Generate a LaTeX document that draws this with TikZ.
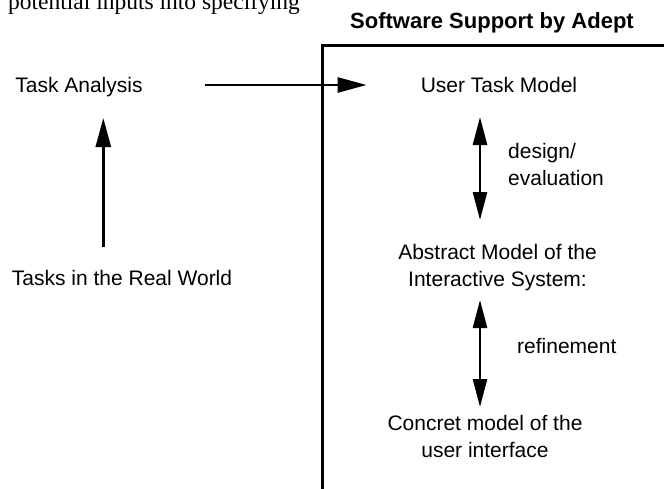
\documentclass[tikz,border=0pt]{standalone}
\usepackage{fontspec}
\setmainfont{Liberation Sans}
\newfontfamily\serifface{Liberation Serif}
\usetikzlibrary{arrows.meta}

\tikzset{
  label21/.style={inner sep=0pt, font=\fontsize{21}{27.5}\selectfont},
  flowarrow/.style={line width=2.6pt, -{Triangle[length=29pt,width=15pt]}},
  twowayarrow/.style={line width=2.6pt,
    {Triangle[length=28pt,width=14pt]}-{Triangle[length=28pt,width=14pt]}},
  frameline/.style={line width=3pt}
}

\begin{document}
\begin{tikzpicture}[x=1pt,y=-1pt]
  \useasboundingbox (0,0) rectangle (664,488);
  \clip (0,0) rectangle (664,488);

  % running text of the page above the figure
  \node[inner sep=0pt, anchor=base west,
        font=\serifface\fontsize{23.5}{28}\selectfont] (runtext) at (8,9.5)
        {potential inputs into specifying};

  % frame of the tool-supported part
  \node[inner sep=0pt, anchor=base,
        font=\bfseries\fontsize{22}{26}\selectfont] (title) at (492,28.5)
        {Software Support by Adept};
  \coordinate (frameTL) at (322.7,45);
  \coordinate (frameBL) at (322.7,490);
  \coordinate (frameTR) at (666,45);
  \draw[frameline] (frameBL) -- (frameTL) -- (frameTR);

  % left column
  \node[label21, anchor=base] (ta)  at (79,92.5)  {Task Analysis};
  \node[label21, anchor=base] (trw) at (122,285)  {Tasks in the Real World};

  % right column
  \node[label21, anchor=base] (utm) at (499,92.5) {User Task Model};
  \node[label21, anchor=north, align=center] (abs) at (497.5,243.7)
        {Abstract Model of the\\Interactive System:};
  \node[label21, anchor=north, align=center] (con) at (485,414.7)
        {Concret model of the\\user interface};

  \node[label21, anchor=north west, align=left] (de) at (508,142.7)
        {design/\\evaluation};
  \node[label21, anchor=base west] (ref) at (517,353) {refinement};

  % connectors
  \draw[flowarrow] ([shift={(62,-7.5)}]ta.base east)
                -- ([shift={(-54,-7.5)}]utm.base west);
  \draw[flowarrow] ([shift={(-18.7,-38.3)}]trw.base)
                -- ([shift={(24.3,25.5)}]ta.base);
  \draw[twowayarrow] ([shift={(-19,24.5)}]utm.base)
                  -- ([shift={(-17.5,-23.7)}]abs.north);
  \draw[twowayarrow] ([shift={(-17.5,56.3)}]abs.north)
                  -- ([shift={(-5,-7.7)}]con.north);
\end{tikzpicture}
\end{document}
